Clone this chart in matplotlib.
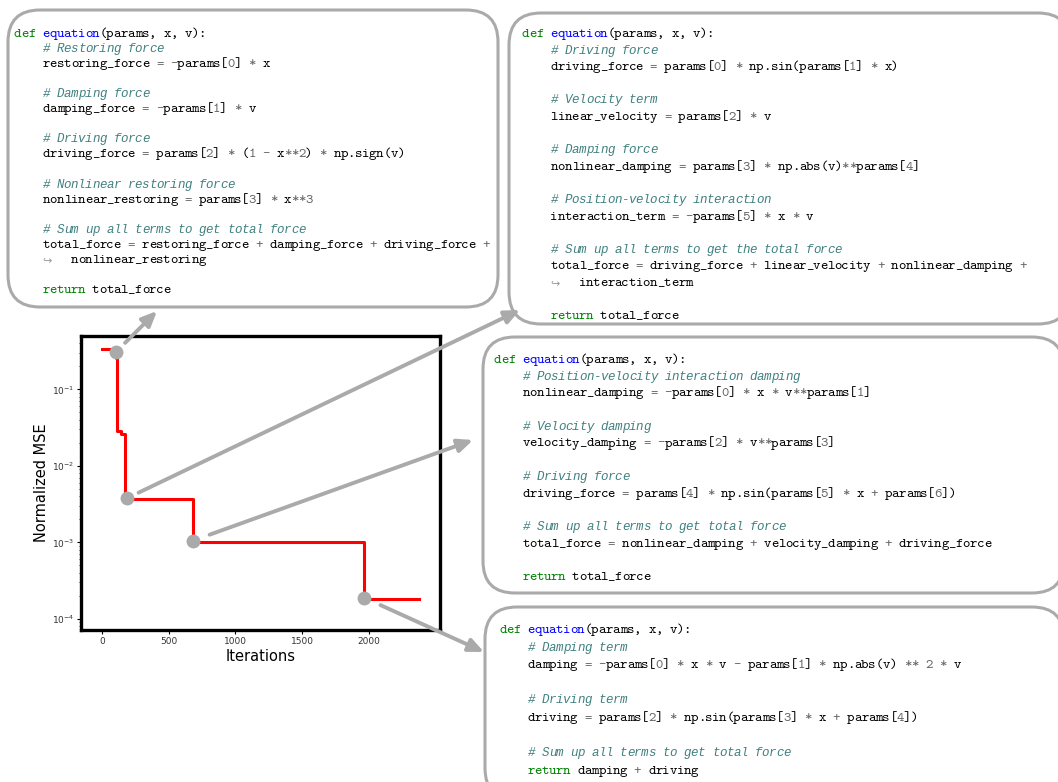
import re
import matplotlib
matplotlib.use("Agg")
import matplotlib.pyplot as plt
from matplotlib.patches import FancyBboxPatch, ConnectionPatch

# ---- optimisation history -------------------------------------------------
iterations = [0, 105, 115, 142, 176, 679, 1963, 2375]
norm_mse = [0.333, 0.254, 0.0286, 0.0258, 0.00366, 0.00102, 0.000184, 0.000184]

# iterations at which a new best equation was found
snap_iters = [107, 190, 679, 1963]
snap_mse = [0.31, 0.0038, 0.00105, 0.00019]

x_ticks = [0, 500, 1000, 1500, 2000]

# ---- discovered equations ---------------------------------------------------
equation_1 = [
    "def equation(params, x, v):",
    "    # Restoring force",
    "    restoring_force = -params[0] * x",
    "",
    "    # Damping force",
    "    damping_force = -params[1] * v",
    "",
    "    # Driving force",
    "    driving_force = params[2] * (1 - x**2) * np.sign(v)",
    "",
    "    # Nonlinear restoring force",
    "    nonlinear_restoring = params[3] * x**3",
    "",
    "    # Sum up all terms to get total force",
    "    total_force = restoring_force + damping_force + driving_force +",
    "    \u21aa   nonlinear_restoring",
    "",
    "    return total_force",
]

equation_2 = [
    "def equation(params, x, v):",
    "    # Driving force",
    "    driving_force = params[0] * np.sin(params[1] * x)",
    "",
    "    # Velocity term",
    "    linear_velocity = params[2] * v",
    "",
    "    # Damping force",
    "    nonlinear_damping = params[3] * np.abs(v)**params[4]",
    "",
    "    # Position-velocity interaction",
    "    interaction_term = -params[5] * x * v",
    "",
    "    # Sum up all terms to get the total force",
    "    total_force = driving_force + linear_velocity + nonlinear_damping +",
    "    \u21aa   interaction_term",
    "",
    "    return total_force",
]

equation_3 = [
    "def equation(params, x, v):",
    "    # Position-velocity interaction damping",
    "    nonlinear_damping = -params[0] * x * v**params[1]",
    "",
    "    # Velocity damping",
    "    velocity_damping = -params[2] * v**params[3]",
    "",
    "    # Driving force",
    "    driving_force = params[4] * np.sin(params[5] * x + params[6])",
    "",
    "    # Sum up all terms to get total force",
    "    total_force = nonlinear_damping + velocity_damping + driving_force",
    "",
    "    return total_force",
]

equation_4 = [
    "def equation(params, x, v):",
    "    # Damping term",
    "    damping = -params[0] * x * v - params[1] * np.abs(v) ** 2 * v",
    "",
    "    # Driving term",
    "    driving = params[2] * np.sin(params[3] * x + params[4])",
    "",
    "    # Sum up all terms to get total force",
    "    return damping + driving",
]

equations = [equation_1, equation_2, equation_3, equation_4]

# ---- layout (pixel units, origin top-left) ---------------------------------
W, H = 1058, 782
# box: left, top, right, bottom ; text: x of column 0, first baseline, line step
panels = [
    dict(box=(8, 10, 498, 307), x0=14, y0=37, step=15.06),
    dict(box=(509, 13, 1070, 324), x0=522, y0=37, step=16.6),
    dict(box=(483, 337, 1064, 593), x0=494, y0=363, step=16.7),
    dict(box=(485, 607, 1064, 800), x0=499, y0=633, step=17.6),
]
arrow_heads = [(157, 311), (520, 310), (473, 440), (484, 652)]
arrow_gap = [9, 9, 13, 13]

CHAR_W = 7.1      # px per monospace column
CODE_SIZE = 10.2
COMMENT_SIZE = 9.0

STYLE = {
    "comment": dict(family="Liberation Mono", style="italic", size=COMMENT_SIZE, color="#408080"),
    "kw": dict(family="cmtt10", size=CODE_SIZE, color="#008000"),
    "func": dict(family="cmtt10", size=CODE_SIZE, color="#0000ff"),
    "num": dict(family="cmtt10", size=CODE_SIZE, color="#666666"),
    "op": dict(family="cmtt10", size=CODE_SIZE, color="#666666"),
    "cont": dict(family="DejaVu Sans", size=8.0, color="#9a9a9a"),
    "name": dict(family="cmtt10", size=CODE_SIZE, color="#000000"),
    "punct": dict(family="cmtt10", size=CODE_SIZE, color="#000000"),
}

TOKEN_RE = re.compile(
    r"(?P<comment>#.*)|(?P<kw>\b(?:def|return)\b)|(?P<num>\d+)|"
    r"(?P<op>\*\*|[=*+\-])|(?P<cont>\u21aa)|(?P<name>[A-Za-z_]\w*)|"
    r"(?P<space>\s+)|(?P<punct>.)"
)

fig = plt.figure(figsize=(W / 100, H / 100), dpi=100)
fig.patch.set_facecolor("white")

# ---- convergence plot -------------------------------------------------------
ax = fig.add_axes([81 / W, 1 - 630 / H, 359 / W, 294 / H])
ax.plot(iterations, norm_mse, drawstyle="steps-post", color="red", lw=2.2, zorder=2)
ax.plot(snap_iters, snap_mse, "o", color="#aaaaaa", ms=10, mec="none", zorder=3)
ax.set_yscale("log")
ax.set_xlim(-157, 2532)
ax.set_ylim(7.18e-5, 0.497)
ax.set_xticks(x_ticks)
ax.tick_params(axis="both", which="major", labelsize=6.5, labelcolor="#333333",
               length=3, width=0.8, pad=2)
ax.tick_params(axis="y", which="minor", length=1.5, width=0.5)
for sp in ax.spines.values():
    sp.set_linewidth(2.4)
    sp.set_color("black")
ax.set_xlabel("Iterations", fontsize=10.5, labelpad=2)
ax.set_ylabel("Normalized MSE", fontsize=10.5, labelpad=2)

# ---- code panels ------------------------------------------------------------
ov = fig.add_axes([0, 0, 1, 1], zorder=-1)
ov.set_xlim(0, W)
ov.set_ylim(H, 0)
ov.set_axis_off()

for lines, lay in zip(equations, panels):
    l, t, r, b = lay["box"]
    ov.add_patch(FancyBboxPatch((l, t), r - l, b - t,
                                boxstyle="round,pad=0,rounding_size=32",
                                fc="white", ec="#aaaaaa", lw=2.2, zorder=1))
    for i, line in enumerate(lines):
        y = lay["y0"] + i * lay["step"]
        after_def = False
        for m in TOKEN_RE.finditer(line):
            kind = m.lastgroup
            if kind == "space":
                continue
            tok = m.group()
            if kind == "name" and after_def:
                kind = "func"
            after_def = kind == "kw" and tok == "def"
            style = STYLE[kind]
            # one glyph per monospace column
            for k, ch in enumerate(tok):
                if ch == " ":
                    continue
                x = lay["x0"] + (m.start() + k) * CHAR_W
                ov.text(x, y, ch, ha="left", va="baseline", zorder=2, **style)

# ---- arrows from snapshots to their equations ------------------------------
for xi, yi, head, gap in zip(snap_iters, snap_mse, arrow_heads, arrow_gap):
    con = ConnectionPatch(xyA=(xi, yi), coordsA=ax.transData,
                          xyB=head, coordsB=ov.transData,
                          arrowstyle="-|>,head_length=0.45,head_width=0.2",
                          mutation_scale=20, shrinkA=gap, shrinkB=0,
                          color="#aaaaaa", lw=2.8)
    fig.add_artist(con)

fig.savefig("out.png", dpi=100)
